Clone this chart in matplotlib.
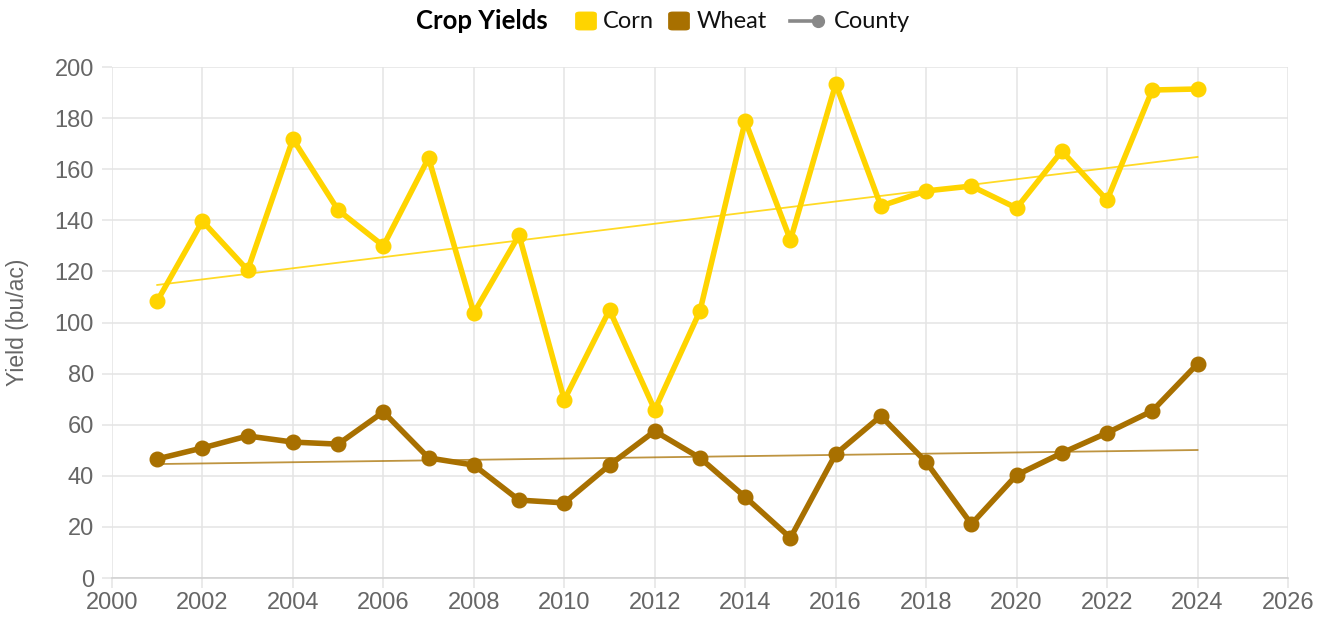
import matplotlib
matplotlib.use("Agg")
import matplotlib.pyplot as plt
from matplotlib.lines import Line2D
from matplotlib.patches import FancyBboxPatch

years = list(range(2001, 2025))
corn = [108.4, 139.7, 120.5, 171.8, 144.0, 130.0, 164.4, 103.7, 134.2, 69.7, 104.9, 65.8,
        104.5, 178.9, 132.3, 193.3, 145.6, 151.5, 153.4, 144.8, 167.1, 147.9, 191.0, 191.4]
wheat = [46.6, 50.9, 55.6, 53.2, 52.4, 65.0, 47.0, 44.2, 30.5, 29.4, 44.2, 57.5,
         47.0, 31.7, 15.7, 48.5, 63.4, 45.4, 21.1, 40.3, 48.9, 56.8, 65.4, 83.8]
trend_years = [2001, 2024]
corn_trend = [114.7, 164.8]
wheat_trend = [44.6, 50.1]
x_ticks = list(range(2000, 2027, 2))
y_ticks = list(range(0, 201, 20))

CORN = "#FFD400"
WHEAT = "#A87000"
GRID = "#e4e4e4"
TICK = "#666666"
COUNTY = "#888888"

plt.rcParams['font.family'] = ['Liberation Sans', 'DejaVu Sans']

W, H = 1330, 624
fig = plt.figure(figsize=(W / 100, H / 100), dpi=100)
ax = fig.add_axes([0.0842, 0.0737, 0.8842, 0.8189])

ax.plot(years, corn, color=CORN, lw=4.0, marker='o', ms=10.5, zorder=4, solid_joinstyle='round')
ax.plot(years, wheat, color=WHEAT, lw=4.0, marker='o', ms=10.5, zorder=4, solid_joinstyle='round')
ax.plot(trend_years, corn_trend, color=CORN, lw=1.3, alpha=0.85, zorder=3)
ax.plot(trend_years, wheat_trend, color=WHEAT, lw=1.3, alpha=0.75, zorder=3)

ax.set_xlim(2000, 2026)
ax.set_ylim(0, 200)
ax.set_xticks(x_ticks)
ax.set_yticks(y_ticks)
ax.grid(True, color=GRID, lw=1.1, zorder=0)
ax.set_axisbelow(True)
for s in ['top', 'right', 'left']:
    ax.spines[s].set_visible(False)
ax.spines['bottom'].set_color('#cfcfcf')
ax.spines['bottom'].set_linewidth(1.1)
ax.tick_params(axis='both', colors=GRID, labelcolor=TICK, labelsize=17, length=7, width=1.1)
ax.tick_params(axis='x', pad=3)
ax.tick_params(axis='y', pad=6)
ax.set_ylabel("Yield (bu/ac)", color=TICK, fontsize=16.5)
ax.yaxis.set_label_coords(-0.0706, 0.5)

# Legend row at the top (pixel layout)
yc = H - 21
def fx(px):
    return px / W
def fy(py):
    return py / H

fig.text(fx(416), fy(yc), "Crop Yields", fontsize=18.5, fontweight='bold',
         family=['Lato', 'DejaVu Sans'], ha='left', va='center', color='black')
leg_font = {'family': ['Lato', 'DejaVu Sans'], 'size': 17}
for left, color, label, tx in [(577, CORN, "Corn", 603), (670, WHEAT, "Wheat", 697)]:
    sq = FancyBboxPatch((fx(left + 1.5), fy(yc - 7.5)), fx(15), fy(15),
                        boxstyle="round,pad=0.002,rounding_size=0.003",
                        facecolor=color, edgecolor=color, transform=fig.transFigure, figure=fig)
    fig.patches.append(sq)
    fig.text(fx(tx), fy(yc), label, ha='left', va='center', color='#111111', fontdict=leg_font)

fig.add_artist(Line2D([fx(790), fx(818)], [fy(yc), fy(yc)], color=COUNTY, lw=2.6,
                      transform=fig.transFigure))
fig.add_artist(Line2D([fx(818)], [fy(yc)], marker='o', ms=8.5, color=COUNTY, linestyle='none',
                      transform=fig.transFigure))
fig.text(fx(834), fy(yc), "County", ha='left', va='center', color='#111111', fontdict=leg_font)

fig.savefig("out.png", dpi=100)
